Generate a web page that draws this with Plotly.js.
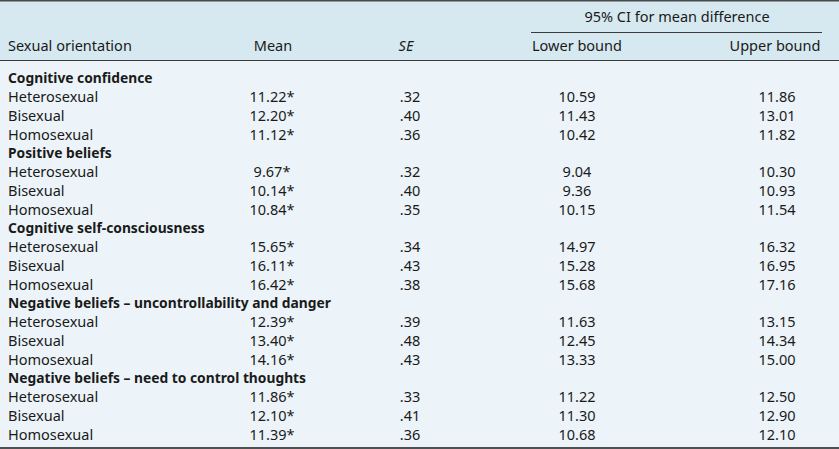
<!DOCTYPE html>
<html>
<head>
<meta charset="utf-8">
<script src="https://cdn.plot.ly/plotly-3.0.1.min.js"></script>
<style>html,body{margin:0;padding:0;background:#fff;}#chart{width:839px;height:449px;}</style>
</head>
<body>
<div id="chart"></div>
<script>
// ---- data ----
const groups = ["Cognitive confidence", "Positive beliefs", "Cognitive self-consciousness",
  "Negative beliefs – uncontrollability and danger", "Negative beliefs – need to control thoughts"];
const orientations = ["Heterosexual", "Bisexual", "Homosexual"];
const means = [[11.22, 12.20, 11.12], [9.67, 10.14, 10.84], [15.65, 16.11, 16.42], [12.39, 13.40, 14.16], [11.86, 12.10, 11.39]];
const ses = [[".32", ".40", ".36"], [".32", ".40", ".35"], [".34", ".43", ".38"], [".39", ".48", ".43"], [".33", ".41", ".36"]];
const lowerBounds = [[10.59, 11.43, 10.42], [9.04, 9.36, 10.15], [14.97, 15.28, 15.68], [11.63, 12.45, 13.33], [11.22, 11.30, 10.68]];
const upperBounds = [[11.86, 13.01, 11.82], [10.30, 10.93, 11.54], [16.32, 16.95, 17.16], [13.15, 14.34, 15.00], [12.50, 12.90, 12.10]];
const colHeaders = ["Sexual orientation", "Mean", "<i>SE</i>", "Lower bound", "Upper bound"];
const spanHeader = "95% CI for mean difference";

// ---- layout geometry ----
const W = 839, H = 449;
const FONT = "Noto Sans, sans-serif";
const FS = 14.5;
const FSB = 13.8;
const TXT = "#1a1a1a";
const colX = {label: 8, mean: 272, se: 410, lo: 577, hi: 777};
const hdrX = {label: 8, mean: 273, se: 406, lo: 577, hi: 775};
const rowY0 = 80, rowStep = 18.74;

const boldX = [], boldY = [], boldT = [];
const labelX = [], labelY = [], labelT = [];
const cX = [], cY = [], cT = [];
let r = 0;
groups.forEach((g, gi) => {
  const yg = rowY0 + r * rowStep; r++;
  boldX.push(colX.label); boldY.push(yg); boldT.push("<b>" + g + "</b>");
  orientations.forEach((o, oi) => {
    const y = rowY0 + r * rowStep; r++;
    labelX.push(colX.label); labelY.push(y); labelT.push(o);
    cX.push(colX.mean); cY.push(y); cT.push(means[gi][oi].toFixed(2) + "*");
    cX.push(colX.se); cY.push(y); cT.push(ses[gi][oi]);
    cX.push(colX.lo); cY.push(y); cT.push(lowerBounds[gi][oi].toFixed(2));
    cX.push(colX.hi); cY.push(y); cT.push(upperBounds[gi][oi].toFixed(2));
  });
});

const hY = 47;
const traces = [
  {type: "scatter", mode: "text", x: boldX, y: boldY, text: boldT, textposition: "middle right",
   textfont: {family: FONT, size: FSB, color: TXT}, hoverinfo: "skip", cliponaxis: false},
  {type: "scatter", mode: "text", x: labelX, y: labelY, text: labelT, textposition: "middle right",
   textfont: {family: FONT, size: FS, color: TXT}, hoverinfo: "skip", cliponaxis: false},
  {type: "scatter", mode: "text", x: cX, y: cY, text: cT, textposition: "middle center",
   textfont: {family: FONT, size: FS, color: TXT}, hoverinfo: "skip", cliponaxis: false},
  {type: "scatter", mode: "text", x: [hdrX.label], y: [hY], text: [colHeaders[0]], textposition: "middle right",
   textfont: {family: FONT, size: FS, color: TXT}, hoverinfo: "skip", cliponaxis: false},
  {type: "scatter", mode: "text", x: [hdrX.mean, hdrX.se, hdrX.lo, hdrX.hi, 677], y: [hY, hY, hY, hY, 18],
   text: [colHeaders[1], colHeaders[2], colHeaders[3], colHeaders[4], spanHeader], textposition: "middle center",
   textfont: {family: FONT, size: FS, color: TXT}, hoverinfo: "skip", cliponaxis: false}
];

const layout = {
  width: W, height: H, margin: {l: 0, r: 0, t: 0, b: 0},
  paper_bgcolor: "#ffffff", plot_bgcolor: "#ffffff", showlegend: false,
  xaxis: {range: [0, W], visible: false, fixedrange: true},
  yaxis: {range: [H, 0], visible: false, fixedrange: true},
  shapes: [
    {type: "rect", xref: "x", yref: "y", x0: 0, x1: W, y0: 0, y1: 60, fillcolor: "#d6e9f0", line: {width: 0}, layer: "below"},
    {type: "rect", xref: "x", yref: "y", x0: 0, x1: W, y0: 60, y1: 449, fillcolor: "#ecf4f9", line: {width: 0}, layer: "below"},
    {type: "line", xref: "x", yref: "y", x0: 0, x1: W, y0: 0.8, y1: 0.8, line: {color: "#4a4a4a", width: 1.6}},
    {type: "line", xref: "x", yref: "y", x0: 0, x1: W, y0: 60.5, y1: 60.5, line: {color: "#3a3a3a", width: 1}},
    {type: "line", xref: "x", yref: "y", x0: 531, x1: 822, y0: 32.5, y1: 32.5, line: {color: "#3a3a3a", width: 1}},
    {type: "line", xref: "x", yref: "y", x0: 0, x1: W, y0: 448, y1: 448, line: {color: "#1a1a1a", width: 1.5}}
  ]
};

Plotly.newPlot("chart", traces, layout, {displayModeBar: false, staticPlot: true});
</script>
</body>
</html>
